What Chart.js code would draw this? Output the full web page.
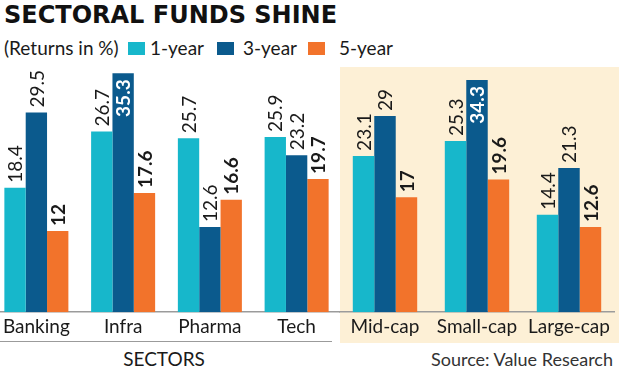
<!DOCTYPE html>
<html><head><meta charset="utf-8">
<script src="https://cdn.jsdelivr.net/npm/chart.js@4/dist/chart.umd.min.js"></script>
<style>
html,body{margin:0;padding:0;width:620px;height:370px;overflow:hidden;background:#fff;font-family:Lato,sans-serif;color:#1a1a1a}
.abs{position:absolute;white-space:nowrap}
#title{left:4px;top:3px;font-family:"DejaVu Sans",sans-serif;font-weight:bold;font-size:24px;line-height:24px;color:#111}
.lg{top:38px;font-size:19px;line-height:20px}
.sw{top:42px;width:17px;height:13px}
#panel{left:340px;top:67px;width:279px;height:276px;background:#fdf0d6}
#sep{left:0;top:341px;width:332px;height:1px;background:#9b9b9b}
#sectors{left:0;width:328px;text-align:center;top:348px;font-size:19px;line-height:22px}
#source{right:7px;top:348px;font-size:18px;line-height:22px;color:#333}
canvas{position:absolute}
</style></head><body>
<div id="panel" class="abs"></div>
<div id="title" class="abs">SECTORAL FUNDS SHINE</div>
<div id="legend"></div>
<canvas id="left" width="347" height="281" style="left:-7px;top:60px;width:347px;height:281px"></canvas>
<canvas id="right" width="276" height="281" style="left:339px;top:60px;width:276px;height:281px"></canvas>
<div id="sep" class="abs"></div>
<div id="sectors" class="abs">SECTORS</div>
<div id="source" class="abs">Source: Value Research</div>
<script>
const sectorLabels = ['Banking', 'Infra', 'Pharma', 'Tech'];
const capLabels = ['Mid-cap', 'Small-cap', 'Large-cap'];
const seriesNames = ['1-year', '3-year', '5-year'];
const sector1y = [18.4, 26.7, 25.7, 25.9];
const sector3y = [29.5, 35.3, 12.6, 23.2];
const sector5y = [12, 17.6, 16.6, 19.7];
const cap1y = [23.1, 25.3, 14.4];
const cap3y = [29, 34.3, 21.3];
const cap5y = [17, 19.6, 12.6];
const legendTitle = '(Returns in %)';

const colors = ['#17b7cb', '#0b5a8d', '#f2732b'];

(function(){
  const lg = document.getElementById('legend');
  const textX = [150, 243, 339];
  const swX = [128, 217, 308];
  let t = document.createElement('div');
  t.className = 'abs lg'; t.style.left = '4px'; t.textContent = legendTitle; lg.appendChild(t);
  seriesNames.forEach((n, i) => {
    const s = document.createElement('div');
    s.className = 'abs sw'; s.style.left = swX[i] + 'px'; s.style.background = colors[i]; lg.appendChild(s);
    const d = document.createElement('div');
    d.className = 'abs lg'; d.style.left = textX[i] + 'px'; d.textContent = n; lg.appendChild(d);
  });
})();

const valueLabels = {
  id: 'valueLabels',
  afterDatasetsDraw(chart) {
    const ctx = chart.ctx;
    let maxV = -Infinity;
    chart.data.datasets.forEach(ds => ds.data.forEach(v => { if (v > maxV) maxV = v; }));
    chart.data.datasets.forEach((ds, di) => {
      const meta = chart.getDatasetMeta(di);
      meta.data.forEach((bar, i) => {
        const v = ds.data[i];
        const inside = v === maxV;
        const bold = inside || di === 2;
        ctx.save();
        ctx.translate(bar.x + 1, inside ? bar.y + 6 : bar.y - 5);
        ctx.rotate(-Math.PI / 2);
        ctx.font = (bold ? 'bold ' : '') + '19px Lato';
        ctx.fillStyle = inside ? '#ffffff' : '#1a1a1a';
        ctx.textAlign = inside ? 'right' : 'left';
        ctx.textBaseline = 'middle';
        ctx.fillText(String(v), 0, 0);
        ctx.restore();
      });
    });
  }
};

function makeChart(id, labels, d1, d2, d3, catPct) {
  return new Chart(document.getElementById(id), {
    type: 'bar',
    data: {
      labels: labels,
      datasets: [
        { label: seriesNames[0], data: d1, backgroundColor: colors[0] },
        { label: seriesNames[1], data: d2, backgroundColor: colors[1] },
        { label: seriesNames[2], data: d3, backgroundColor: colors[2] }
      ]
    },
    options: {
      responsive: false,
      animation: false,
      layout: { padding: { top: 8.6, left: 0, right: 0, bottom: 0 } },
      plugins: { legend: { display: false }, tooltip: { enabled: false } },
      datasets: { bar: { barPercentage: 1, categoryPercentage: catPct, borderWidth: 0 } },
      scales: {
        x: {
          grid: { display: false, drawTicks: false },
          border: { display: true, color: '#9b9b9b', width: 1.5 },
          ticks: { font: { family: 'Lato', size: 19 }, color: '#1a1a1a', padding: 3, maxRotation: 0, autoSkip: false }
        },
        y: { display: false, min: 0, max: 36 }
      }
    },
    plugins: [valueLabels]
  });
}

makeChart('left', sectorLabels, sector1y, sector3y, sector5y, 0.738);
makeChart('right', capLabels, cap1y, cap3y, cap5y, 0.70);
</script>
</body></html>
